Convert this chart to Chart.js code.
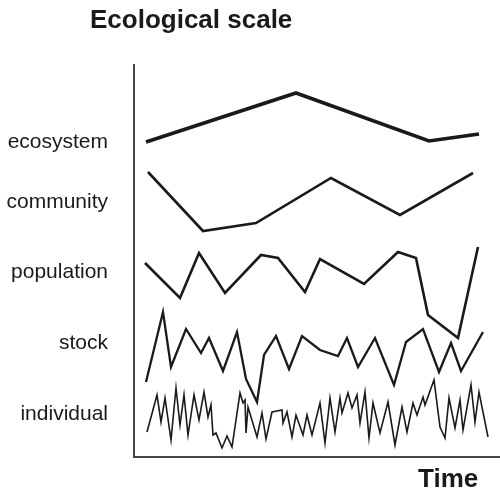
<!DOCTYPE html>
<html>
<head>
<meta charset="utf-8">
<script src="https://cdn.jsdelivr.net/npm/chart.js@4/dist/chart.umd.min.js"></script>
<style>
  html, body { margin: 0; padding: 0; background: #ffffff; }
  #wrap { width: 500px; height: 491px; position: relative; }
</style>
</head>
<body>
<div id="wrap"><canvas id="c" width="500" height="491"></canvas></div>
<script>
// ---- data (arbitrary units) ----
const titleText = 'Ecological scale';
const xAxisTitle = 'Time';
const levelLabels = ['ecosystem', 'community', 'population', 'stock', 'individual'];
const levelPositions = [315, 255, 185, 114, 43];

const ecosystemX = [12, 162, 295, 345];
const ecosystemY = [315, 364, 316, 323];

const communityX = [14, 69, 122, 197, 266, 339];
const communityY = [285, 226, 234, 279, 242, 284];

const populationX = [11, 46, 65, 91, 127, 144, 171, 186, 230, 264, 282, 294, 324, 344];
const populationY = [194, 159, 204, 164, 202, 199, 165, 198, 173, 205, 199, 142, 119, 210];

const stockX = [12, 29, 37, 52, 67, 75, 89, 103, 112, 123, 130, 142, 155, 168, 186, 204, 213, 224, 241, 260, 272, 289, 305, 317, 327, 349];
const stockY = [75, 145, 90, 128, 104, 119, 86, 125, 78, 55, 102, 121, 88, 121, 107, 101, 119, 90, 119, 72, 115, 128, 85, 114, 86, 125];

const individualX = [13, 23, 27, 31, 37, 42, 46, 50, 54, 60, 65, 70, 74, 77, 79, 82, 88, 93, 98, 106, 109, 111, 112, 114, 123, 128, 132, 138, 148, 149, 153, 158, 162, 169, 173, 178, 186, 191, 196, 201, 206, 208, 214, 218, 223, 226, 231, 235, 239, 246, 254, 261, 268, 273, 279, 283, 289, 291, 300, 306, 311, 315, 321, 326, 329, 337, 341, 345, 354];
const individualY = [25, 62, 35, 59, 17, 69, 32, 62, 22, 62, 37, 65, 40, 52, 22, 24, 9, 21, 10, 64, 54, 57, 24, 50, 20, 44, 18, 45, 47, 34, 45, 20, 42, 22, 42, 22, 54, 14, 59, 25, 59, 44, 64, 49, 62, 34, 65, 19, 54, 24, 55, 12, 50, 25, 54, 42, 60, 52, 77, 30, 19, 59, 29, 57, 27, 72, 35, 65, 20];

const xMin = 0, xMax = 366, yMin = 0, yMax = 392;

// ---- build ----
function pts(xs, ys) { return xs.map((x, i) => ({ x: x, y: ys[i] })); }
const ink = '#1a1a1a';
function ds(label, xs, ys, w) {
  return { label: label, data: pts(xs, ys), borderColor: ink, borderWidth: w,
           pointRadius: 0, tension: 0, fill: false, borderJoinStyle: 'miter' };
}

const textPlugin = {
  id: 'textPlugin',
  afterDraw(chart) {
    const ctx = chart.ctx;
    ctx.save();
    ctx.fillStyle = ink;
    ctx.textBaseline = 'alphabetic';
    ctx.textAlign = 'left';
    ctx.font = 'bold 26px "Liberation Sans", Arial, sans-serif';
    ctx.fillText(titleText, 90, 28);
    ctx.fillText(xAxisTitle, 418, 487);
    ctx.restore();
  }
};

new Chart(document.getElementById('c'), {
  type: 'line',
  data: {
    datasets: [
      ds('ecosystem', ecosystemX, ecosystemY, 3.6),
      ds('community', communityX, communityY, 2.6),
      ds('population', populationX, populationY, 2.6),
      ds('stock', stockX, stockY, 2.3),
      ds('individual', individualX, individualY, 1.6)
    ]
  },
  options: {
    responsive: false,
    animation: false,
    layout: { padding: { top: 65, right: 0, bottom: 0, left: 0 } },
    plugins: { legend: { display: false }, title: { display: false }, tooltip: { enabled: false } },
    scales: {
      x: {
        type: 'linear', min: xMin, max: xMax,
        grid: { display: false, drawTicks: false },
        border: { display: true, color: '#444', width: 2 },
        ticks: { display: false },
        afterFit(scale) { scale.height = 34; scale.paddingLeft = 0; scale.paddingRight = 0; }
      },
      y: {
        type: 'linear', min: yMin, max: yMax,
        grid: { display: false, drawTicks: false },
        border: { display: true, color: '#444', width: 2 },
        afterBuildTicks(scale) { scale.ticks = levelPositions.map(v => ({ value: v })); },
        ticks: {
          padding: 26,
          color: ink,
          font: { family: '"Liberation Sans", Arial, sans-serif', size: 21 },
          callback(value) { const i = levelPositions.indexOf(value); return i >= 0 ? levelLabels[i] : ''; }
        },
        afterFit(scale) { scale.width = 134; scale.paddingTop = 0; scale.paddingBottom = 0; }
      }
    }
  },
  plugins: [textPlugin]
});
</script>
</body>
</html>
